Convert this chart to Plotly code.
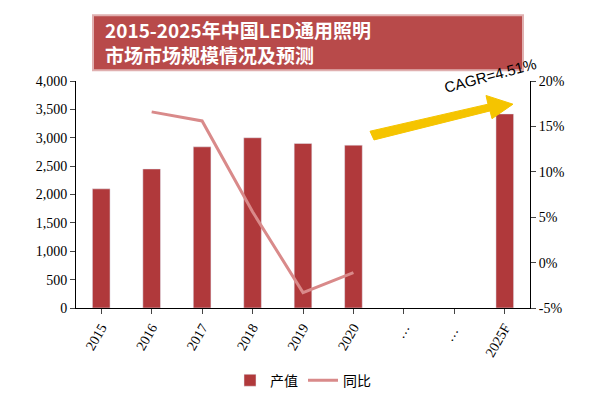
import plotly.graph_objects as go

categories = ["2015", "2016", "2017", "2018", "2019", "2020", "…", "… ", "2025F"]
output_value = [2100, 2450, 2840, 3000, 2900, 2870, None, None, 3420]
yoy_pct = [None, 16.6, 15.6, 5.6, -3.3, -1.1, None, None, None]
left_ticks = [0, 500, 1000, 1500, 2000, 2500, 3000, 3500, 4000]
right_ticks = [-5, 0, 5, 10, 15, 20]

fig = go.Figure()
fig.add_bar(x=categories, y=output_value, name="产值", marker_color="#B0393B", width=0.35)
fig.add_scatter(x=categories, y=yoy_pct, name="同比", yaxis="y2", mode="lines",
                line=dict(color="#D98A8A", width=3), connectgaps=False)

font = "SimSun, Noto Sans CJK SC, serif"
fig.update_layout(
    width=600, height=400, margin=dict(l=68, r=78, t=73, b=92),
    plot_bgcolor="white", paper_bgcolor="white",
    font=dict(family=font, size=14, color="black"),
    showlegend=True,
    legend=dict(orientation="h", x=0.5, xanchor="center", y=-0.32, yanchor="middle",
                font=dict(size=14)),
    xaxis=dict(type="category", tickangle=-60, showline=True, linecolor="black",
               ticks="outside", tickfont=dict(family="Liberation Serif, serif", size=14)),
    yaxis=dict(range=[0, 4000], tickvals=left_ticks, tickformat=",", showgrid=False,
               showline=True, linecolor="black", ticks="outside",
               tickfont=dict(family="Liberation Serif, serif", size=14)),
    yaxis2=dict(range=[-5, 20], tickvals=right_ticks,
                ticktext=[f"{v}%" for v in right_ticks], overlaying="y",
                side="right", showgrid=False, showline=True, linecolor="black",
                ticks="outside", zeroline=False,
                tickfont=dict(family="Liberation Serif, serif", size=14)),
    bargap=0.5,
)

def px(x, y):
    return (x-68)/454, (308-y)/235

# title box
fig.add_shape(type="rect", xref="paper", yref="paper",
              x0=px(85, 0)[0], x1=px(515, 0)[0], y0=px(0, 62)[1], y1=px(0, 5)[1],
              fillcolor="#B84A4A", line=dict(color="#E0B0B0", width=2), layer="above")
fig.add_annotation(xref="paper", yref="paper", x=px(95, 0)[0], y=px(0, 33)[1],
                   xanchor="left", yanchor="middle",
                   text="<b>2015-2025年中国LED通用照明</b><br><b>市场市场规模情况及预测</b>",
                   showarrow=False, align="left",
                   font=dict(color="white", size=19, family="Noto Sans CJK SC"))

# CAGR arrow
pts = [(362, 125), (480, 97), (478, 88), (505, 97), (484, 112), (482, 104), (366, 134)]
path = "M " + " L ".join(f"{px(a,b)[0]},{px(a,b)[1]}" for a, b in pts) + " Z"
fig.add_shape(type="path", xref="paper", yref="paper", path=path,
              fillcolor="#F5C400", line=dict(color="#F5C400", width=1))
ax, ay = px(482, 67)
fig.add_annotation(xref="paper", yref="paper", x=ax, y=ay, text="CAGR=4.51%",
                   showarrow=False, textangle=-15, xanchor="center", yanchor="middle",
                   font=dict(family="Liberation Sans, Arial", size=15, color="black"))

fig.write_html("out.html")
